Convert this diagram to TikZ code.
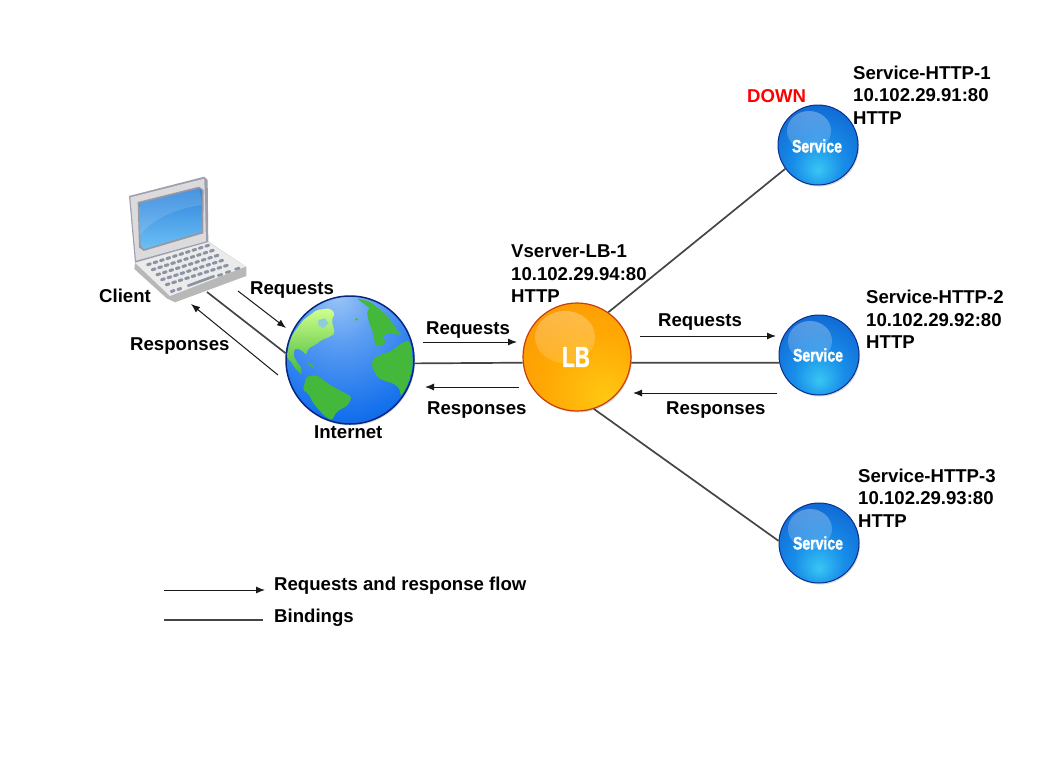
\documentclass[tikz,border=0pt]{standalone}
\usepackage{fontspec}
\setmainfont{Liberation Sans}
\newfontface\ballfont{Liberation Sans Bold}[FakeBold=1.6]
\usetikzlibrary{shadows,fadings,arrows.meta}
\definecolor{linegray}{HTML}{454545}
\definecolor{keygray}{HTML}{8C93A3}
\definecolor{landgreen}{HTML}{43B83A}
\definecolor{svcrim}{HTML}{08308C}
\definecolor{lbrim}{HTML}{C83E08}
\definecolor{earthrim}{HTML}{06277C}
\definecolor{svca}{HTML}{38C6F4}
\definecolor{svcb}{HTML}{188CE8}
\definecolor{svcc}{HTML}{0F62D0}
\definecolor{svcd}{HTML}{0B44AE}
\definecolor{lba}{HTML}{FFC812}
\definecolor{lbb}{HTML}{FFA804}
\definecolor{lbc}{HTML}{F88E04}
\definecolor{lbd}{HTML}{D85008}
\definecolor{eartha}{HTML}{9CC6F6}
\definecolor{earthb}{HTML}{5A9CF2}
\definecolor{earthc}{HTML}{1470EC}
\definecolor{earthd}{HTML}{0838B8}
\definecolor{earthe}{HTML}{062480}
\definecolor{screentop}{HTML}{2F84DC}
\definecolor{screenlow}{HTML}{6CC0F4}
\pgfdeclareradialshading{svcball}{\pgfpoint{0bp}{-16bp}}{color(0bp)=(svca); color(16bp)=(svcb); color(38bp)=(svcc); color(62bp)=(svcd); color(72bp)=(svcrim)}
\pgfdeclareradialshading{lbball}{\pgfpoint{14bp}{-20bp}}{color(0bp)=(lba); color(25bp)=(lbb); color(55bp)=(lbc); color(78bp)=(lbd); color(84bp)=(lbrim)}
\pgfdeclareradialshading{earthball}{\pgfpoint{-5bp}{26bp}}{color(0bp)=(eartha); color(15bp)=(earthb); color(36bp)=(earthc); color(60bp)=(earthd); color(78bp)=(earthe)}
\tikzset{
  lbl/.style={inner sep=0pt,anchor=west,align=left,font=\fontsize{18.6}{22.5}\selectfont\bfseries},
  flow/.style={-{Latex[length=9pt,width=7pt]},line width=1pt,black!90},
  binding/.style={line width=1.7pt,linegray},
  svc/.style={circle,inner sep=0pt,minimum size=80pt,shading=svcball,draw=svcrim,line width=1pt,
    drop shadow={shadow xshift=1pt,shadow yshift=-1.5pt,opacity=.3},
    path picture={\fill[white,opacity=.32,path fading=south] ([shift={(-9,-14)}]path picture bounding box.center) ellipse (22 and 20);}},
  ballname/.style={text=white,font=\fontsize{18}{18}\ballfont},
  land/.style={fill=landgreen,draw=none,rounded corners=2pt},
  keycap/.style={fill=keygray,rounded corners=1pt}
}
\begin{document}
\begin{tikzpicture}[x=1pt,y=-1pt]
  \useasboundingbox (0,0) rectangle (1056,768);

  \begin{scope}[shift={(125,170)},scale=.3333]
    \fill[black!28] (30,280) -- (250,215) -- (364,291) -- (364,318) -- (150,397) -- (125,385) -- (28,297) -- cycle;
    \fill[blue!6!black!8] (30,278) -- (248,215) -- (362,290) -- (135,378) -- cycle;
    \fill[blue!15!black!38] (12,78) -- (238,20) -- (248,30) -- (250,216) -- (30,278) -- cycle;
    \fill[blue!8!black!14] (16,82) -- (238,26) -- (243,214) -- (33,272) -- cycle;
    \fill[blue!10!black!40] (38,96) -- (222,50) -- (236,60) -- (235,190) -- (56,243) -- (42,232) -- cycle;
    \shade[top color=screentop,bottom color=screenlow] (44,100) -- (224,55) -- (231,63) -- (231,185) -- (57,237) -- (47,225) -- cycle;
    \fill[white,opacity=.12] (45,195) .. controls (90,140) and (160,115) .. (231,105) -- (224,55) -- (44,100) -- cycle;
    \foreach \r in {0,...,4}
      \foreach \c in {0,...,9}
        \fill[keycap,shift={(\c*19.4+\r*14+72,\c*-6.2+\r*15+283)},rotate=17] (-8,-4.5) rectangle (8,4.5);
    \fill[keycap,shift={(228,333)},rotate=20] (-44,-4) rectangle (44,4);
    \fill[keycap,shift={(143,363)},rotate=17] (-8,-4.5) rectangle (8,4.5);
    \fill[keycap,shift={(163,357)},rotate=17] (-8,-4.5) rectangle (8,4.5);
    \fill[keycap,shift={(285,315)},rotate=17] (-9,-4) rectangle (9,4);
    \fill[keycap,shift={(309,306)},rotate=17] (-9,-4) rectangle (9,4);
    \fill[keycap,shift={(337,296)},rotate=17] (-9,-4) rectangle (9,4);
  \end{scope}

  \node[circle,inner sep=0pt,minimum size=128pt,shading=earthball,draw=earthrim,line width=1.5pt,
    drop shadow={shadow xshift=1pt,shadow yshift=-1.5pt,opacity=.3}] (earth) at (350,360) {};
  \begin{scope}[shift={(280,290)},scale=.3333]
    \clip (210,209) circle (188);
    \shade[rounded corners=2pt,top color=green!40!yellow!45!white,bottom color=landgreen] (150,55) -- (165,70) -- (155,90) -- (165,130) -- (150,140) -- (125,150) -- (105,165) -- (85,175) -- (78,195) -- (65,180) -- (45,175) -- (40,195) -- (50,215) -- (65,235) -- (65,255) -- (45,235) -- (30,210) -- (20,205) -- (22,170) -- (40,130) -- (70,90) -- (110,60) -- cycle;
    \fill[eartha!90!green] (115,90) -- (135,85) -- (145,100) -- (130,115) -- (115,105) -- cycle;
    \fill[land] (230,25) -- (270,35) -- (320,75) -- (355,125) -- (365,135) -- (320,130) -- (305,145) -- (320,155) -- (300,170) -- (285,165) -- (280,130) -- (268,100) -- (260,65) -- (270,55) -- (250,40) -- cycle;
    \fill[land] (280,205) -- (300,195) -- (330,185) -- (365,160) -- (385,150) -- (398,180) -- (400,230) -- (385,280) -- (365,330) -- (358,295) -- (340,280) -- (320,275) -- (295,265) -- (275,230) -- cycle;
    \fill[land] (68,300) -- (80,260) -- (110,255) -- (150,285) -- (215,320) -- (205,345) -- (170,365) -- (155,392) -- (130,375) -- (100,340) -- (85,310) -- cycle;
    \fill[land] (230,88) circle (4);
    \fill[land] (85,215) -- (106,232) -- (98,234) -- (82,222) -- cycle;
  \end{scope}

  \node[circle,inner sep=0pt,minimum size=108pt,shading=lbball,draw=lbrim,line width=1.2pt,
    drop shadow={shadow xshift=1pt,shadow yshift=-1.5pt,opacity=.3},
    path picture={\fill[white,opacity=.3,path fading=south] ([shift={(-12,-20)}]path picture bounding box.center) ellipse (30 and 26);}] (lb) at (577,357) {};
  \node[ballname,font=\fontsize{29}{29}\ballfont] (lbname) at (576,357) {\scalebox{.72}[1]{LB}};

  \node[svc] (svcone) at (818,145) {};
  \node[ballname] (svconename) at (817,146) {\scalebox{.78}[1]{Service}};
  \node[svc] (svctwo) at (819,355) {};
  \node[ballname] (svctwoname) at (818,355) {\scalebox{.78}[1]{Service}};
  \node[svc] (svcthree) at (819,543) {};
  \node[ballname] (svcthreename) at (818,543) {\scalebox{.78}[1]{Service}};

  \coordinate (clientport) at (207,292);
  \draw[binding] (clientport) -- (earth.174);
  \draw[binding] (earth.-3) -- (lb.186);
  \draw[binding] (lb.-6) -- (svctwo.191);
  \draw[binding] (lb.55) -- (svcone.216);
  \draw[binding] (lb.-72) -- (svcthree.177);

  \coordinate (reqa) at (238,291);
  \coordinate (reqb) at (286,328);
  \coordinate (resa) at (278,375);
  \coordinate (resb) at (191,304);
  \coordinate (reqc) at (423,342);
  \coordinate (reqd) at (517,342);
  \coordinate (resc) at (519,387);
  \coordinate (resd) at (425,387);
  \coordinate (reqe) at (640,336);
  \coordinate (reqf) at (776,336);
  \coordinate (rese) at (777,393);
  \coordinate (resf) at (633,393);
  \draw[flow] (reqa) -- (reqb);
  \draw[flow] (resa) -- (resb);
  \draw[flow] (reqc) -- (reqd);
  \draw[flow] (resc) -- (resd);
  \draw[flow] (reqe) -- (reqf);
  \draw[flow] (rese) -- (resf);

  \node[lbl] (clientlbl) at (99,296) {Client};
  \node[lbl] (reqlbla) at (250,290) {Requests};
  \node[lbl] (reslbla) at (130,346) {Responses};
  \node[lbl] (internetlbl) at (314,432) {Internet};
  \node[lbl] (reqlblb) at (426,330) {Requests};
  \node[lbl] (reslblb) at (427,410) {Responses};
  \node[lbl] (reqlblc) at (658,322) {Requests};
  \node[lbl] (reslblc) at (666,410) {Responses};
  \node[lbl] (vserverlbl) at (511,274) {Vserver-LB-1\\10.102.29.94:80\\HTTP};
  \node[lbl] (svconelbl) at (853,95) {Service-HTTP-1\\10.102.29.91:80\\HTTP};
  \node[lbl] (svctwolbl) at (866,319.5) {Service-HTTP-2\\10.102.29.92:80\\HTTP};
  \node[lbl] (svcthreelbl) at (858,498) {Service-HTTP-3\\10.102.29.93:80\\HTTP};
  \node[lbl,text=red] (downlbl) at (747,96) {DOWN};

  \coordinate (keya) at (164,590);
  \coordinate (keyb) at (265,590);
  \coordinate (keyc) at (164,620);
  \coordinate (keyd) at (263,620);
  \draw[flow] (keya) -- (keyb);
  \draw[binding,line width=1.2pt] (keyc) -- (keyd);
  \node[lbl] (flowlbl) at (274,586) {Requests and response flow};
  \node[lbl] (bindlbl) at (274,618) {Bindings};
\end{tikzpicture}
\end{document}
